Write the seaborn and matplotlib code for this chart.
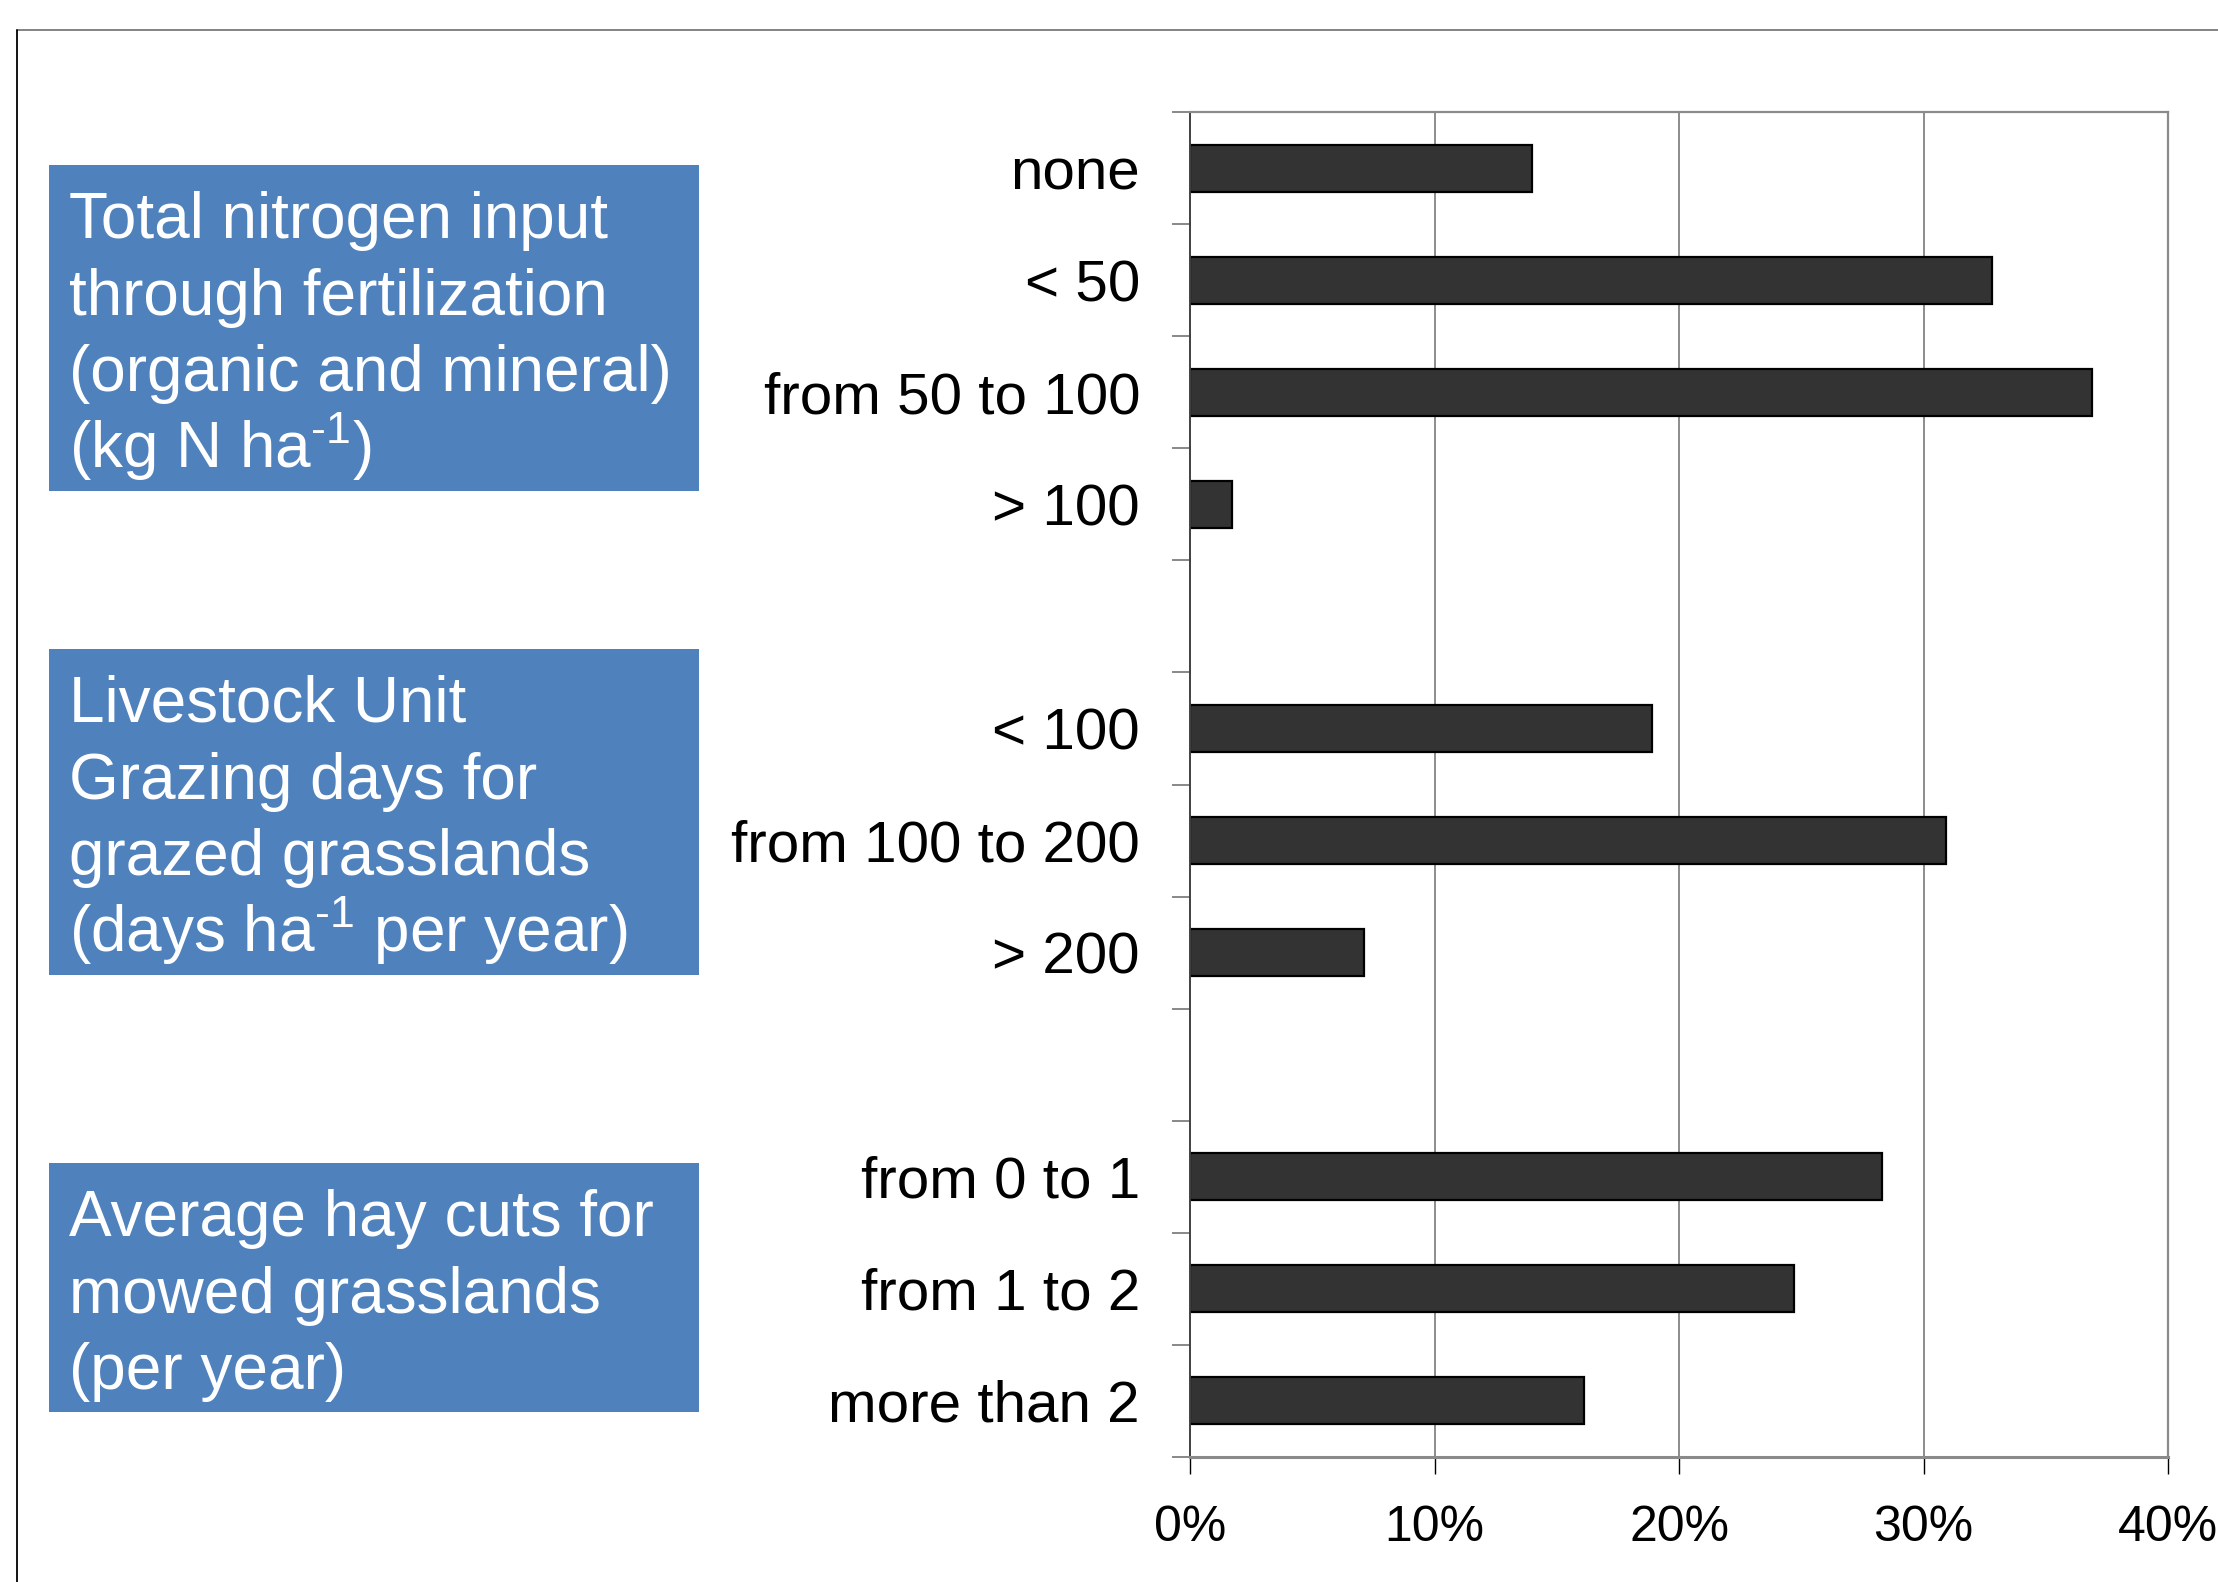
import matplotlib
matplotlib.use("Agg")
import matplotlib.pyplot as plt
from matplotlib.patches import Rectangle
from matplotlib.lines import Line2D
from matplotlib.ticker import FuncFormatter, FixedLocator
import seaborn as sns
import pandas as pd
import numpy as np

# --- data (share of farms, %) ---
fert_labels = ["none", "< 50", "from 50 to 100", "> 100"]
fert_values = [14.0, 32.8, 36.9, 1.7]
graz_labels = ["< 100", "from 100 to 200", "> 200"]
graz_values = [18.9, 30.9, 7.1]
hay_labels = ["from 0 to 1", "from 1 to 2", "more than 2"]
hay_values = [28.3, 24.7, 16.1]

x_ticks = [0, 10, 20, 30, 40]

group_titles = [
    ["Total nitrogen input", "through fertilization", "(organic and mineral)",
     r"(kg N ha$^{\text{-1}}$)"],
    ["Livestock Unit", "Grazing days for", "grazed grasslands",
     r"(days ha$^{\text{-1}}$ per year)"],
    ["Average hay cuts for", "mowed grasslands", "(per year)"],
]

df = pd.DataFrame({
    "category": fert_labels + graz_labels + hay_labels,
    "share": fert_values + graz_values + hay_values,
})
# empty slots separate the three groups
order = fert_labels + [" "] + graz_labels + ["  "] + hay_labels

sns.set_theme(style="white")
plt.rcParams["font.family"] = ["Liberation Sans", "DejaVu Sans"]
plt.rcParams["mathtext.fontset"] = "custom"
plt.rcParams["mathtext.rm"] = "Liberation Sans"
plt.rcParams["mathtext.it"] = "Liberation Sans:italic"
plt.rcParams["mathtext.bf"] = "Liberation Sans:bold"

W, H = 2218, 1582
fig = plt.figure(figsize=(W / 100, H / 100), dpi=100, facecolor="white")


def fx(px):
    return px / W


def fy(py):
    return 1 - py / H


ax = fig.add_axes([fx(1190), fy(1457), fx(2168) - fx(1190), fy(112) - fy(1457)])

sns.barplot(data=df, x="share", y="category", order=order, orient="h",
            color="#333333", saturation=1, width=0.42,
            edgecolor="black", linewidth=1.6, ax=ax)

ax.set_xlim(0, 40)
ax.set_ylim(len(order) - 0.5, -0.5)
ax.set_xlabel("")
ax.set_ylabel("")

ax.xaxis.set_major_locator(FixedLocator(x_ticks))
ax.xaxis.set_major_formatter(FuncFormatter(lambda v, p: f"{v:.0f}%"))
ax.tick_params(axis="x", which="major", length=12.5, width=1.0, color="black",
               direction="out", bottom=True, labelsize=36, pad=22,
               labelcolor="black")

ax.yaxis.set_minor_locator(FixedLocator(np.arange(-0.5, len(order), 1.0)))
ax.tick_params(axis="y", which="major", length=0, labelsize=42, pad=36,
               labelcolor="black")
ax.tick_params(axis="y", which="minor", length=13, width=1.3, color="#7f7f7f",
               direction="out", left=True)

# vertical gridlines
for v in x_ticks[1:-1]:
    ax.axvline(v, color="#6e6e6e", lw=1.1, zorder=0)

for side, col, lw in [("top", "#8a8a8a", 1.6), ("right", "#8a8a8a", 1.6),
                      ("bottom", "#8a8a8a", 2.2), ("left", "#404040", 1.4)]:
    ax.spines[side].set_visible(True)
    ax.spines[side].set_color(col)
    ax.spines[side].set_linewidth(lw)

# outer frame (continues beyond the figure edge)
fig.add_artist(Line2D([fx(17), 1.02], [fy(30), fy(30)], transform=fig.transFigure,
                      color="#7a7a7a", lw=1.3))
fig.add_artist(Line2D([fx(17), fx(17)], [fy(30), -0.02], transform=fig.transFigure,
                      color="black", lw=1.3))

# group title boxes
boxes = [(165, 491), (649, 975), (1163, 1412)]
for (top, bottom), lines in zip(boxes, group_titles):
    fig.add_artist(Rectangle((fx(49), fy(bottom)), fx(699) - fx(49),
                             fy(top) - fy(bottom), transform=fig.transFigure,
                             facecolor="#4F81BD", edgecolor="none"))
    for i, line in enumerate(lines):
        fig.text(fx(69), fy(top + 73 + i * 76.7), line, color="white",
                 fontsize=46, ha="left", va="baseline")

fig.savefig("out.png", dpi=100, facecolor="white")
